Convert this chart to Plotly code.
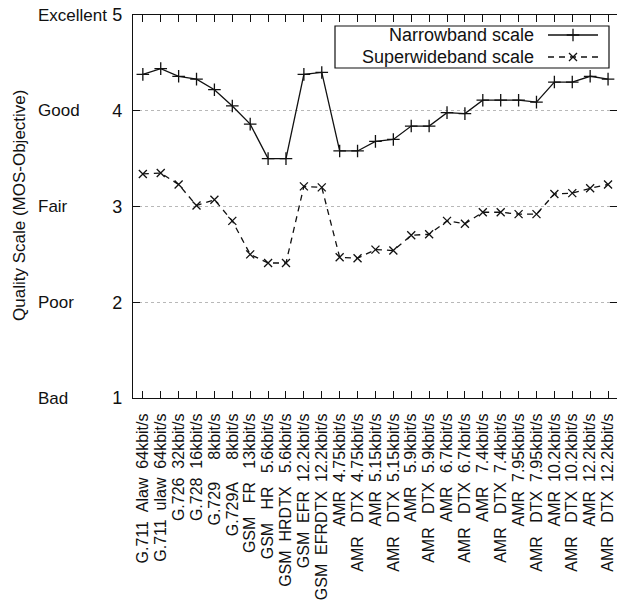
import re
import plotly.graph_objects as go

# tick labels as printed in the original (whitespace between fields kept)
codecs = [
    "G.711  Alaw  64kbit/s", "G.711  ulaw  64kbit/s", "G.726  32kbit/s", "G.728  16kbit/s",
    "G.729     8kbit/s", "G.729A     8kbit/s", "GSM   FR   13kbit/s",
    "GSM   HR   5.6kbit/s", "GSM  HRDTX   5.6kbit/s", "GSM  EFR  12.2kbit/s",
    "GSM  EFRDTX  12.2kbit/s",
    "AMR  4.75kbit/s", "AMR   DTX  4.75kbit/s", "AMR  5.15kbit/s", "AMR   DTX  5.15kbit/s",
    "AMR   5.9kbit/s", "AMR   DTX  5.9kbit/s", "AMR   6.7kbit/s", "AMR   DTX  6.7kbit/s",
    "AMR   7.4kbit/s", "AMR   DTX  7.4kbit/s", "AMR  7.95kbit/s", "AMR   DTX  7.95kbit/s",
    "AMR  10.2kbit/s", "AMR   DTX  10.2kbit/s", "AMR  12.2kbit/s", "AMR   DTX  12.2kbit/s",
]
narrowband = [4.38, 4.44, 4.36, 4.33, 4.22, 4.05, 3.86, 3.50, 3.50, 4.38, 4.40,
              3.58, 3.58, 3.68, 3.70, 3.84, 3.84, 3.98, 3.97, 4.11, 4.11, 4.11,
              4.09, 4.30, 4.30, 4.36, 4.33]
superwideband = [3.34, 3.35, 3.23, 3.01, 3.07, 2.85, 2.50, 2.41, 2.41, 3.21, 3.20,
                 2.47, 2.46, 2.55, 2.54, 2.70, 2.71, 2.85, 2.82, 2.94, 2.94, 2.92,
                 2.92, 3.13, 3.14, 3.19, 3.23]
y_ticks = [1, 2, 3, 4, 5]
y_words = ["Bad", "Poor", "Fair", "Good", "Excellent"]
series_names = ["Narrowband scale", "Superwideband scale"]

FONT = "Liberation Sans, Arial, sans-serif"
INK = "#111111"
W, H = 617, 608
L, T, R, B = 133, 15, 0, 210
PW, PH = W - L - R, H - T - B

def px(xp):
    return (xp - L) / PW

def py(yp):
    return (H - B - yp) / PH

# keep the whitespace of the labels visible in SVG text
tick_text = [re.sub(" ", "\u00a0", c) for c in codecs]
xs = list(range(len(codecs)))

fig = go.Figure()
fig.add_trace(go.Scatter(
    x=xs, y=narrowband, mode="lines+markers", name=series_names[0],
    line=dict(color=INK, width=1.3),
    marker=dict(symbol="cross-thin", size=9, line=dict(color=INK, width=1.3)),
    showlegend=False,
))
fig.add_trace(go.Scatter(
    x=xs, y=superwideband, mode="lines+markers", name=series_names[1],
    line=dict(color=INK, width=1.3, dash="6px,5px"),
    marker=dict(symbol="x-thin", size=8, line=dict(color=INK, width=1.3)),
    showlegend=False,
))

# legend samples drawn on an overlay axis spanning the plot area (0..1)
leg_x = [px(548), px(573), px(598)]
for i, (nm, yy) in enumerate(zip(series_names, [py(35), py(57)])):
    fig.add_trace(go.Scatter(
        x=leg_x, y=[yy] * 3, xaxis="x2", yaxis="y2", mode="lines",
        line=dict(color=INK, width=1.3, dash=("solid" if i == 0 else "6px,5px")),
        showlegend=False, hoverinfo="skip",
    ))
    fig.add_trace(go.Scatter(
        x=[leg_x[1]], y=[yy], xaxis="x2", yaxis="y2", mode="markers",
        marker=dict(symbol=("cross-thin" if i == 0 else "x-thin"), size=9 if i == 0 else 8,
                    line=dict(color=INK, width=1.3)),
        showlegend=False, hoverinfo="skip",
    ))

annotations = []
for v, w in zip(y_ticks, y_words):
    annotations.append(dict(
        text=w, x=px(36), xref="paper", y=v, yref="y", xanchor="left", yanchor="middle",
        showarrow=False, font=dict(family=FONT, size=17, color=INK),
    ))
annotations.append(dict(
    text="Quality Scale (MOS-Objective)", x=px(19), xref="paper", y=py(206), yref="paper",
    textangle=-90, xanchor="center", yanchor="middle", showarrow=False,
    font=dict(family=FONT, size=17, color=INK),
))
for nm, yy in zip(series_names, [35, 57]):
    annotations.append(dict(
        text=nm, x=px(536), xref="paper", y=py(yy), yref="paper",
        xanchor="right", yanchor="middle", showarrow=False,
        font=dict(family=FONT, size=18, color=INK),
    ))

fig.update_layout(
    width=W, height=H,
    margin=dict(l=L, r=R, t=T, b=B, pad=0),
    paper_bgcolor="white", plot_bgcolor="white",
    font=dict(family=FONT, color=INK),
    annotations=annotations,
    shapes=[dict(type="rect", xref="paper", yref="paper",
                 x0=px(335), x1=px(609), y0=py(68), y1=py(26),
                 line=dict(color=INK, width=1.2), fillcolor="rgba(0,0,0,0)")],
    xaxis=dict(
        range=[-0.55, 26.5], tickvals=xs, ticktext=tick_text,
        showgrid=False, zeroline=False,
        showline=True, linecolor=INK, linewidth=1.2, mirror="ticks",
        ticks="inside", ticklen=7, tickwidth=1.2, tickcolor=INK,
        tickangle=-90, tickfont=dict(family=FONT, size=16, color=INK),
        ticklabelstandoff=8,
    ),
    yaxis=dict(
        range=[1, 5], tickvals=y_ticks, showgrid=True, gridcolor="#b8b8b8",
        griddash="dot", gridwidth=1, zeroline=False,
        showline=True, linecolor=INK, linewidth=1.2, mirror="ticks",
        ticks="inside", ticklen=7, tickwidth=1.2, tickcolor=INK,
        tickfont=dict(family=FONT, size=18, color=INK), ticklabelstandoff=6,
    ),
    xaxis2=dict(overlaying="x", range=[0, 1], visible=False, fixedrange=True),
    yaxis2=dict(overlaying="y", range=[0, 1], visible=False, fixedrange=True),
)

fig.write_html("out.html")
